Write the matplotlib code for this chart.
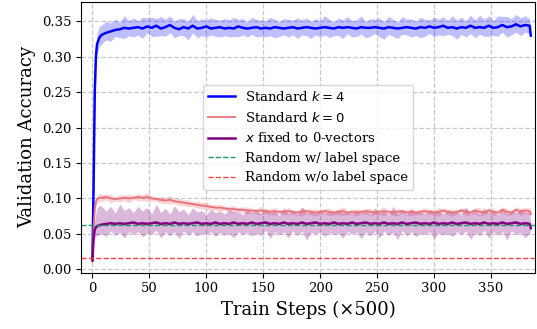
import numpy as np
import matplotlib
matplotlib.use("Agg")
import matplotlib.pyplot as plt

plt.rcParams['font.family'] = ['DejaVu Serif']
plt.rcParams['mathtext.fontset'] = 'dejavusans'

# evaluation steps (x500)
steps = [0, 1, 2, 3, 4, 6] + list(range(8, 385, 4)) + [385]

blue_mean = [0.015, 0.12, 0.25, 0.30, 0.318, 0.327,
    0.331, 0.334, 0.336, 0.338, 0.339, 0.341, 0.340, 0.341, 0.342, 0.340,
    0.343, 0.341, 0.344, 0.340, 0.342, 0.345, 0.341, 0.339, 0.342, 0.340,
    0.344, 0.340, 0.341, 0.343, 0.340, 0.341, 0.342, 0.340, 0.341, 0.340,
    0.343, 0.341, 0.340, 0.341, 0.342, 0.340, 0.341, 0.340, 0.342, 0.341,
    0.340, 0.341, 0.342, 0.340, 0.341, 0.342, 0.341, 0.340, 0.341, 0.342,
    0.341, 0.340, 0.342, 0.341, 0.342, 0.341, 0.340, 0.342, 0.341, 0.341,
    0.342, 0.341, 0.340, 0.342, 0.341, 0.340, 0.341, 0.342, 0.341, 0.340,
    0.342, 0.341, 0.343, 0.341, 0.342, 0.344, 0.341, 0.342, 0.340, 0.342,
    0.341, 0.344, 0.341, 0.342, 0.341, 0.344, 0.341, 0.342, 0.345, 0.342,
    0.343, 0.346, 0.343, 0.345, 0.344, 0.330]
blue_up = [0.002, 0.010, 0.010, 0.012, 0.015, 0.016,
    0.014, 0.016, 0.012, 0.015, 0.010, 0.017, 0.011, 0.014, 0.009, 0.016,
    0.012, 0.015, 0.010, 0.017, 0.011, 0.013, 0.009, 0.015, 0.012, 0.010,
    0.016, 0.011, 0.013, 0.009, 0.015, 0.012, 0.010, 0.014, 0.011, 0.016,
    0.010, 0.013, 0.009, 0.015, 0.011, 0.012, 0.010, 0.016, 0.011, 0.009,
    0.014, 0.012, 0.010, 0.015, 0.011, 0.013, 0.009, 0.014, 0.010, 0.016,
    0.012, 0.009, 0.013, 0.011, 0.015, 0.010, 0.012, 0.016, 0.009, 0.013,
    0.011, 0.014, 0.010, 0.015, 0.012, 0.009, 0.016, 0.011, 0.013, 0.010,
    0.014, 0.012, 0.009, 0.015, 0.011, 0.013, 0.010, 0.016, 0.012, 0.014,
    0.010, 0.015, 0.011, 0.017, 0.012, 0.014, 0.010, 0.016, 0.012, 0.015,
    0.011, 0.014, 0.012, 0.013, 0.010, 0.002]
blue_lo = [0.002, 0.020, 0.030, 0.020, 0.015, 0.012,
    0.013, 0.010, 0.014, 0.009, 0.012, 0.015, 0.010, 0.013, 0.011, 0.014,
    0.009, 0.012, 0.015, 0.010, 0.013, 0.011, 0.014, 0.009, 0.012, 0.016,
    0.010, 0.013, 0.011, 0.015, 0.009, 0.012, 0.014, 0.010, 0.013, 0.011,
    0.015, 0.010, 0.012, 0.009, 0.014, 0.011, 0.013, 0.010, 0.015, 0.012,
    0.009, 0.013, 0.011, 0.014, 0.010, 0.012, 0.015, 0.009, 0.013, 0.011,
    0.014, 0.010, 0.012, 0.015, 0.009, 0.013, 0.011, 0.010, 0.014, 0.012,
    0.009, 0.013, 0.015, 0.010, 0.012, 0.014, 0.009, 0.011, 0.013, 0.010,
    0.015, 0.012, 0.010, 0.013, 0.011, 0.014, 0.009, 0.012, 0.015, 0.010,
    0.013, 0.011, 0.014, 0.010, 0.012, 0.015, 0.011, 0.013, 0.010, 0.014,
    0.012, 0.011, 0.013, 0.010, 0.012, 0.002]

red_mean = [0.020, 0.060, 0.085, 0.095, 0.099, 0.101,
    0.101, 0.102, 0.100, 0.099, 0.100, 0.101, 0.100, 0.101, 0.102, 0.101,
    0.102, 0.100, 0.099, 0.098, 0.097, 0.098, 0.096, 0.095, 0.094, 0.093,
    0.092, 0.091, 0.090, 0.089, 0.088, 0.087, 0.087, 0.086, 0.085, 0.085,
    0.084, 0.084, 0.083, 0.083, 0.082, 0.083, 0.082, 0.081, 0.082, 0.081,
    0.081, 0.082, 0.081, 0.080, 0.081, 0.082, 0.081, 0.080, 0.081, 0.082,
    0.081, 0.080, 0.081, 0.082, 0.080, 0.081, 0.080, 0.081, 0.082, 0.081,
    0.080, 0.081, 0.082, 0.081, 0.080, 0.081, 0.082, 0.080, 0.081, 0.080,
    0.081, 0.082, 0.081, 0.080, 0.081, 0.083, 0.081, 0.080, 0.081, 0.083,
    0.081, 0.080, 0.083, 0.081, 0.080, 0.083, 0.081, 0.080, 0.084, 0.081,
    0.080, 0.084, 0.081, 0.083, 0.082, 0.078]
red_w = [0.002, 0.004, 0.005, 0.005, 0.005, 0.006,
    0.005, 0.004, 0.006, 0.003, 0.005, 0.004, 0.006, 0.003, 0.005, 0.004,
    0.006, 0.004, 0.003, 0.005, 0.004, 0.006, 0.003, 0.005, 0.004, 0.005,
    0.003, 0.005, 0.004, 0.006, 0.003, 0.004, 0.005, 0.003, 0.004, 0.005,
    0.003, 0.004, 0.005, 0.003, 0.004, 0.006, 0.003, 0.004, 0.005, 0.003,
    0.004, 0.005, 0.003, 0.004, 0.006, 0.003, 0.004, 0.005, 0.003, 0.004,
    0.005, 0.003, 0.004, 0.006, 0.003, 0.004, 0.005, 0.003, 0.004, 0.005,
    0.003, 0.004, 0.006, 0.003, 0.004, 0.005, 0.003, 0.004, 0.005, 0.003,
    0.004, 0.005, 0.003, 0.004, 0.006, 0.003, 0.004, 0.005, 0.003, 0.004,
    0.005, 0.003, 0.004, 0.006, 0.003, 0.004, 0.005, 0.003, 0.004, 0.005,
    0.003, 0.004, 0.005, 0.004, 0.005, 0.002]

purple_mean = [0.012, 0.045, 0.056, 0.059, 0.061, 0.062,
    0.063, 0.064, 0.065, 0.064, 0.065, 0.064, 0.065, 0.066, 0.064, 0.065,
    0.064, 0.065, 0.066, 0.064, 0.065, 0.064, 0.066, 0.064, 0.065, 0.064,
    0.065, 0.066, 0.064, 0.065, 0.064, 0.066, 0.064, 0.065, 0.064, 0.066,
    0.064, 0.065, 0.064, 0.066, 0.064, 0.065, 0.066, 0.064, 0.065, 0.064,
    0.066, 0.064, 0.065, 0.064, 0.066, 0.064, 0.065, 0.066, 0.064, 0.065,
    0.064, 0.066, 0.064, 0.065, 0.064, 0.066, 0.064, 0.065, 0.066, 0.064,
    0.065, 0.064, 0.066, 0.064, 0.065, 0.064, 0.066, 0.064, 0.065, 0.066,
    0.064, 0.065, 0.064, 0.066, 0.064, 0.065, 0.064, 0.066, 0.064, 0.065,
    0.066, 0.064, 0.065, 0.064, 0.066, 0.064, 0.065, 0.064, 0.066, 0.064,
    0.065, 0.066, 0.064, 0.065, 0.064, 0.058]
purple_up = [0.003, 0.010, 0.015, 0.020, 0.025, 0.028,
    0.026, 0.018, 0.024, 0.015, 0.027, 0.019, 0.022, 0.014, 0.025, 0.017,
    0.023, 0.013, 0.026, 0.016, 0.021, 0.014, 0.024, 0.017, 0.020, 0.013,
    0.022, 0.015, 0.019, 0.012, 0.021, 0.014, 0.018, 0.013, 0.020, 0.015,
    0.017, 0.012, 0.021, 0.014, 0.018, 0.013, 0.020, 0.015, 0.017, 0.012,
    0.021, 0.014, 0.018, 0.013, 0.022, 0.015, 0.017, 0.012, 0.020, 0.014,
    0.018, 0.013, 0.021, 0.015, 0.017, 0.012, 0.020, 0.014, 0.018, 0.013,
    0.022, 0.015, 0.017, 0.012, 0.024, 0.014, 0.018, 0.013, 0.020, 0.015,
    0.017, 0.012, 0.021, 0.014, 0.018, 0.013, 0.020, 0.015, 0.017, 0.012,
    0.022, 0.014, 0.018, 0.013, 0.021, 0.015, 0.017, 0.012, 0.020, 0.014,
    0.018, 0.013, 0.021, 0.015, 0.017, 0.003]
purple_lo = [0.003, 0.010, 0.012, 0.012, 0.013, 0.014,
    0.012, 0.018, 0.011, 0.016, 0.013, 0.020, 0.012, 0.017, 0.011, 0.019,
    0.013, 0.016, 0.011, 0.020, 0.012, 0.017, 0.013, 0.021, 0.011, 0.016,
    0.012, 0.019, 0.013, 0.016, 0.011, 0.020, 0.012, 0.017, 0.013, 0.022,
    0.011, 0.016, 0.012, 0.019, 0.013, 0.017, 0.011, 0.021, 0.012, 0.016,
    0.013, 0.020, 0.011, 0.017, 0.012, 0.023, 0.013, 0.016, 0.011, 0.019,
    0.012, 0.017, 0.013, 0.021, 0.011, 0.016, 0.012, 0.022, 0.013, 0.017,
    0.011, 0.020, 0.012, 0.016, 0.013, 0.022, 0.011, 0.017, 0.012, 0.020,
    0.013, 0.016, 0.011, 0.023, 0.012, 0.017, 0.013, 0.020, 0.011, 0.016,
    0.012, 0.022, 0.013, 0.017, 0.011, 0.020, 0.012, 0.016, 0.013, 0.023,
    0.011, 0.017, 0.012, 0.021, 0.013, 0.003]

random_with_labels = 0.0625
random_without_labels = 0.0156

x = np.array(steps, dtype=float)
bm, bu, bl = map(np.array, (blue_mean, blue_up, blue_lo))
rm, rw = map(np.array, (red_mean, red_w))
pm, pu, pl = map(np.array, (purple_mean, purple_up, purple_lo))

fig = plt.figure(figsize=(5.37, 3.29), dpi=100)
ax = fig.add_axes([0.151, 0.171, 0.846, 0.824])

ax.grid(True, linestyle='--', color='#c8c8c8', linewidth=0.9)
ax.set_axisbelow(True)

ax.fill_between(x, bm - bl, bm + bu, color='blue', alpha=0.25, linewidth=0)
ax.plot(x, bm, color='blue', linewidth=1.8, label=r'Standard $k=4$')

ax.fill_between(x, rm - rw, rm + rw, color='#f08080', alpha=0.35, linewidth=0)
ax.plot(x, rm, color='#e8707a', linewidth=1.3, label=r'Standard $k=0$')

ax.fill_between(x, pm - pl, pm + pu, color='purple', alpha=0.28, linewidth=0)
ax.plot(x, pm, color='purple', linewidth=1.8, label=r'$x$ fixed to 0-vectors')

ax.axhline(random_with_labels, color='#1a9a6a', linestyle='--', linewidth=1.0,
           label='Random w/ label space')
ax.axhline(random_without_labels, color='#ff4040', linestyle='--', linewidth=1.0,
           label='Random w/o label space')

ax.set_xlim(-10, 389)
ax.set_ylim(-0.005, 0.378)
ax.set_xticks([0, 50, 100, 150, 200, 250, 300, 350])
ax.set_yticks([0.0, 0.05, 0.10, 0.15, 0.20, 0.25, 0.30, 0.35])
ax.yaxis.set_major_formatter(matplotlib.ticker.FormatStrFormatter('%.2f'))
ax.tick_params(labelsize=9.5)
ax.set_xlabel('Train Steps (×500)', fontsize=13)
ax.set_ylabel('Validation Accuracy', fontsize=13)

ax.legend(loc='center', fontsize=9.5)

fig.savefig('out.png', dpi=100)
